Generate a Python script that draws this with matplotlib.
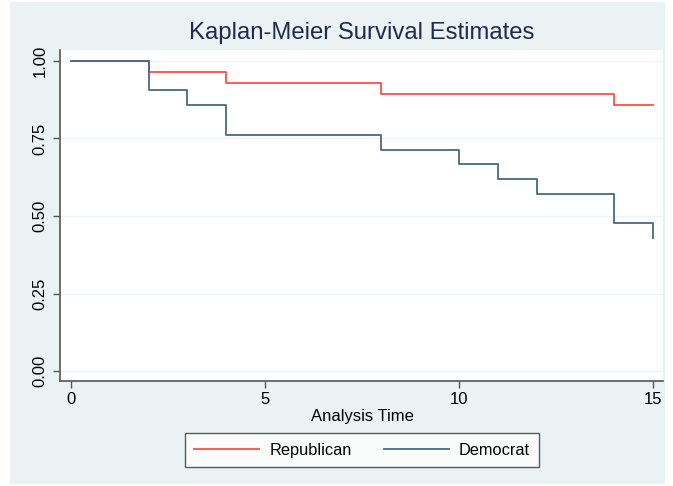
import matplotlib
matplotlib.use("Agg")
from matplotlib import pyplot as plt
from matplotlib.patches import Rectangle

# Kaplan-Meier step data (time, survival)
rep_time = [0, 2, 4, 8, 14, 15]
rep_surv = [1.0, 0.964, 0.929, 0.893, 0.857, 0.857]
dem_time = [0, 2, 3, 4, 8, 10, 11, 12, 14, 15]
dem_surv = [1.0, 0.905, 0.857, 0.762, 0.714, 0.667, 0.619, 0.571, 0.476, 0.429]

x_ticks = [0, 5, 10, 15]
y_ticks = [0.0, 0.25, 0.5, 0.75, 1.0]
y_labels = ["0.00", "0.25", "0.50", "0.75", "1.00"]

plt.rcParams['font.family'] = ['Liberation Sans', 'DejaVu Sans']

W, H = 673, 486
fig = plt.figure(figsize=(W / 100, H / 100), dpi=100)
fig.patch.set_facecolor("white")

# light panel behind everything
fig.patches.append(Rectangle((10 / W, 2 / H), 655 / W, 482 / H, transform=fig.transFigure,
                             facecolor="#eaf2f3", edgecolor="none", zorder=-5))

ax = fig.add_axes([60 / W, 1 - 381 / H, 603 / W, 331 / H])
ax.set_zorder(2)
ax.set_facecolor("white")

ax.step(rep_time, rep_surv, where="post", color="#ff4e42", lw=1.3, label="Republican")
ax.step(dem_time, dem_surv, where="post", color="#46698a", lw=1.3, label="Democrat")

ax.set_xlim(-0.283, 15.26)
ax.set_ylim(-0.032, 1.035)

ax.set_xticks(x_ticks)
ax.set_yticks(y_ticks)
ax.set_yticklabels(y_labels, rotation=90, va="center")
ax.tick_params(axis="both", direction="out", length=5, width=1, color="#555555",
               labelsize=12, labelcolor="black")
ax.tick_params(axis="x", pad=3)
ax.tick_params(axis="y", pad=4)
ax.grid(axis="y", color="#eef4f5", lw=1)
ax.set_axisbelow(True)

for s in ["top", "right"]:
    ax.spines[s].set_visible(False)
for s in ["left", "bottom"]:
    ax.spines[s].set_color("#555555")
    ax.spines[s].set_linewidth(1.2)

fig.text(362 / W, 1 - 33 / H, "Kaplan-Meier Survival Estimates", ha="center", va="center",
         fontsize=17.2, color="#1e2b4f", zorder=3)
fig.text(362 / W, 1 - 416 / H, "Analysis Time", ha="center", va="center", fontsize=12, zorder=3)

leg = fig.legend(loc="center", bbox_to_anchor=(362 / W, 1 - 450 / H), ncol=2,
                 frameon=True, fancybox=False, fontsize=11.8, handlelength=4.0,
                 columnspacing=1.95, handletextpad=0.6, borderpad=0.55, borderaxespad=0)
leg.set_zorder(3)
leg.get_frame().set_edgecolor("#333333")
leg.get_frame().set_linewidth(1.0)

fig.savefig("out.png", dpi=100)
